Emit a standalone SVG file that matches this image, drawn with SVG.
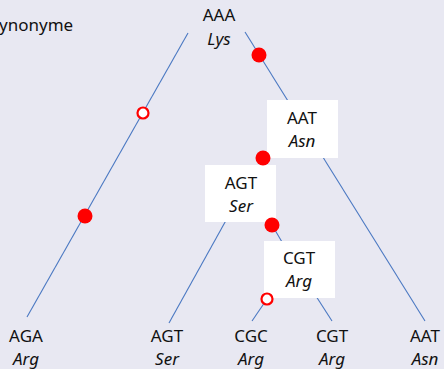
<svg xmlns="http://www.w3.org/2000/svg" width="444" height="369" viewBox="0 0 444 369">
<style>
text{font-family:"Noto Sans","Open Sans",sans-serif;font-size:17px;fill:#111;text-anchor:middle}
.it{font-style:italic}
.ln{stroke:#4A78C2;stroke-width:1.1;fill:none}
.box{fill:#fff}
.dot{fill:#FF0000}
.ring{fill:#fff;stroke:#FF0000;stroke-width:2.2}
</style>
<rect width="444" height="369" fill="#E8E8F2"/>
<text x="-1" y="31" style="text-anchor:start">ynonyme</text>
<g id="connectors">
<line class="ln" x1="188" y1="33" x2="27" y2="317"/>
<line class="ln" x1="245" y1="32" x2="425" y2="321"/>
<line class="ln" x1="229" y1="215" x2="169" y2="323"/>
<line class="ln" x1="272" y1="225" x2="282" y2="242"/>
<line class="ln" x1="267" y1="299" x2="252" y2="321"/>
<line class="ln" x1="314" y1="293" x2="332" y2="321"/>
</g>
<g id="root"><text x="219" y="21">AAA</text><text class="it" x="219" y="45">Lys</text></g>
<g id="node-AAT"><rect class="box" x="267" y="100" width="71" height="58"/><text x="302" y="124">AAT</text><text class="it" x="302" y="147">Asn</text></g>
<g id="node-AGT"><rect class="box" x="205" y="165" width="71" height="57"/><text x="241" y="189">AGT</text><text class="it" x="241" y="212">Ser</text></g>
<g id="node-CGT"><rect class="box" x="264" y="241" width="71" height="57"/><text x="299" y="264">CGT</text><text class="it" x="299" y="287">Arg</text></g>
<g id="marks">
<circle class="dot" cx="259" cy="55" r="7.5"/>
<circle class="dot" cx="263" cy="158" r="7.5"/>
<circle class="dot" cx="272" cy="225" r="7.5"/>
<circle class="dot" cx="85" cy="216" r="7.5"/>
<circle class="ring" cx="143" cy="113" r="5.5"/>
<circle class="ring" cx="267" cy="299" r="5.5"/>
</g>
<g id="leaf-AGA"><text x="26" y="342">AGA</text><text class="it" x="26" y="365">Arg</text></g>
<g id="leaf-AGT"><text x="167" y="342">AGT</text><text class="it" x="167" y="365">Ser</text></g>
<g id="leaf-CGC"><text x="251" y="342">CGC</text><text class="it" x="251" y="365">Arg</text></g>
<g id="leaf-CGT"><text x="332" y="342">CGT</text><text class="it" x="332" y="365">Arg</text></g>
<g id="leaf-AAT"><text x="425" y="342">AAT</text><text class="it" x="425" y="365">Asn</text></g>
</svg>
